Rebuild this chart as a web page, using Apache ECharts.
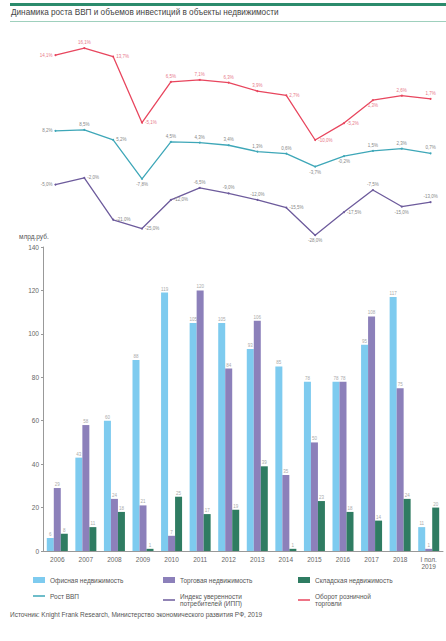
<!DOCTYPE html>
<html><head><meta charset="utf-8">
<script src="https://cdn.jsdelivr.net/npm/echarts@6/dist/echarts.min.js"></script>
<style>html,body{margin:0;padding:0;background:#fff}#c{width:446px;height:641px}</style>
</head><body><div id="c"></div>
<script>
const categories = ['2006','2007','2008','2009','2010','2011','2012','2013','2014','2015','2016','2017','2018','І пол.\n2019'];
// line series (growth, %)
const retailTurnover = [14.1, 16.1, 13.7, -5.1, 6.5, 7.1, 6.3, 3.9, 2.7, -10.0, -5.2, 1.3, 2.6, 1.7];
const gdpGrowth = [8.2, 8.5, 5.2, -7.8, 4.5, 4.3, 3.4, 1.3, 0.6, -3.7, -0.2, 1.5, 2.3, 0.7];
const consumerConfidence = [-5.0, -2.0, -21.0, -25.0, -12.0, -6.5, -9.0, -12.0, -15.5, -28.0, -17.5, -7.5, -15.0, -13.0];
// bars, млрд руб.
const officeRE = [6, 43, 60, 88, 119, 105, 105, 93, 85, 78, 78, 95, 117, 11];
const retailRE = [29, 58, 24, 21, 7, 120, 84, 106, 35, 50, 78, 108, 75, 1];
const warehouseRE = [8, 11, 18, 1, 25, 17, 19, 39, 1, 23, 18, 14, 24, 20];
const yTicks = [0, 20, 40, 60, 80, 100, 120, 140];

const cOffice = '#7ecbef', cRetail = '#8c80ba', cWare = '#2f7c62';
const cRed = '#e8465e', cCyan = '#3ea7b8', cPurple = '#6d5b9c';

// label placement per point (style only)
const redPos = ['left','top','right','right','top','top','top','top','right','right','right','bottom','top','top'];
const cyanPos = ['left','top','right','bottom','top','top','top','top','top','bottom','bottom','top','top','top'];
const purplePos = ['left','right','right','right','right','top','top','top','right','bottom','right','top','bottom','top'];

function fmt(v){ return (Math.round(v*10)/10).toFixed(1).replace('.', ',') + '%'; }
function lineData(arr, pos){ return arr.map((v,i)=>({value:v, label:{position:pos[i]}})); }

const chart = echarts.init(document.getElementById('c'), null, {renderer:'svg'});
const txt = '#666';
const lineIcon = 'path://M0,0 L24,0 L24,3 L0,3 Z';
function legendItem(name, left, top, icon){
  const isRect = icon==='rect';
  return {data:[name], left, top, icon, itemWidth:12, itemHeight: isRect?6:1.6, itemGap:4,
    textStyle:{fontSize:6.5, color:'#555', fontFamily:'Liberation Sans', lineHeight:8}, selectedMode:false};
}
chart.setOption({
  animation:false,
  textStyle:{fontFamily:'Liberation Sans'},
  graphic:[
    {type:'rect', shape:{x:10,y:3,width:436,height:3}, style:{fill:'#2b8b6c'}},
    {type:'text', left:11, top:8, style:{text:'Динамика роста ВВП и объемов инвестиций в объекты недвижимости', fontSize:8.2, fill:'#444', fontFamily:'Liberation Sans'}},
    {type:'rect', shape:{x:10,y:21,width:436,height:1}, style:{fill:'#9fd0bd'}},
    {type:'text', left:19, top:233, style:{text:'млрд.руб.', fontSize:6.5, fill:'#555', fontFamily:'Liberation Sans'}},
    {type:'text', left:10, top:611, style:{text:'Источник: Knight Frank Research, Министерство экономического развития РФ, 2019', fontSize:6.5, fill:'#555', fontFamily:'Liberation Sans'}}
  ],
  legend:[
    legendItem('Офисная недвижимость', 28, 571, 'rect'),
    legendItem('Торговая недвижимость', 158, 571, 'rect'),
    legendItem('Складская недвижимость', 293, 571, 'rect'),
    legendItem('Рост ВВП', 28, 587, lineIcon),
    legendItem('Индекс уверенности\nпотребителей (ИПП)', 158, 587, lineIcon),
    legendItem('Оборот розничной\nторговли', 293, 587, lineIcon)
  ],
  grid:[
    {left:41, right:1, top:40, height:200},
    {left:43, right:3, top:247, bottom:90}
  ],
  xAxis:[
    {gridIndex:0, type:'category', data:categories, show:false, boundaryGap:true},
    {gridIndex:1, type:'category', data:categories, boundaryGap:true,
      axisLine:{lineStyle:{color:'#999'}}, axisTick:{show:false},
      axisLabel:{fontSize:6.5, color:txt, margin:5, lineHeight:7, interval:0}}
  ],
  yAxis:[
    {gridIndex:0, type:'value', min:-38.4, max:18.4, show:false},
    {gridIndex:0, type:'value', min:-28.2, max:38.5, show:false},
    {gridIndex:0, type:'value', min:-30.2, max:60.7, show:false},
    {gridIndex:1, type:'value', min:yTicks[0], max:yTicks[yTicks.length-1], interval:20,
      axisLine:{show:true, lineStyle:{color:'#999'}}, axisTick:{show:true, length:2, lineStyle:{color:'#999'}},
      splitLine:{show:false}, axisLabel:{fontSize:6.5, color:txt, margin:4}}
  ],
  series:[
    {name:'Офисная недвижимость', type:'bar', xAxisIndex:1, yAxisIndex:3, data:officeRE, barWidth:7, barGap:'0%',
      itemStyle:{color:cOffice}, label:{show:true, position:'top', fontSize:4.5, color:'#aaa', distance:1}},
    {name:'Торговая недвижимость', type:'bar', xAxisIndex:1, yAxisIndex:3, data:retailRE, barWidth:7, barGap:'0%',
      itemStyle:{color:cRetail}, label:{show:true, position:'top', fontSize:4.5, color:'#aaa', distance:1}},
    {name:'Складская недвижимость', type:'bar', xAxisIndex:1, yAxisIndex:3, data:warehouseRE, barWidth:7, barGap:'0%',
      itemStyle:{color:cWare}, label:{show:true, position:'top', fontSize:4.5, color:'#aaa', distance:1}},
    {name:'Оборот розничной\nторговли', type:'line', xAxisIndex:0, yAxisIndex:0, data:lineData(retailTurnover, redPos),
      lineStyle:{color:cRed, width:1.3}, itemStyle:{color:cRed}, symbol:'circle', symbolSize:2,
      label:{show:true, fontSize:4.5, color:'#e87a8a', distance:2, formatter:p=>fmt(p.value)}},
    {name:'Рост ВВП', type:'line', xAxisIndex:0, yAxisIndex:1, data:lineData(gdpGrowth, cyanPos),
      lineStyle:{color:cCyan, width:1.3}, itemStyle:{color:cCyan}, symbol:'circle', symbolSize:2,
      label:{show:true, fontSize:4.5, color:'#888', distance:2, formatter:p=>fmt(p.value)}},
    {name:'Индекс уверенности\nпотребителей (ИПП)', type:'line', xAxisIndex:0, yAxisIndex:2, data:lineData(consumerConfidence, purplePos),
      lineStyle:{color:cPurple, width:1.3}, itemStyle:{color:cPurple}, symbol:'circle', symbolSize:2,
      label:{show:true, fontSize:4.5, color:'#888', distance:2, formatter:p=>fmt(p.value)}}
  ]
});
</script></body></html>
